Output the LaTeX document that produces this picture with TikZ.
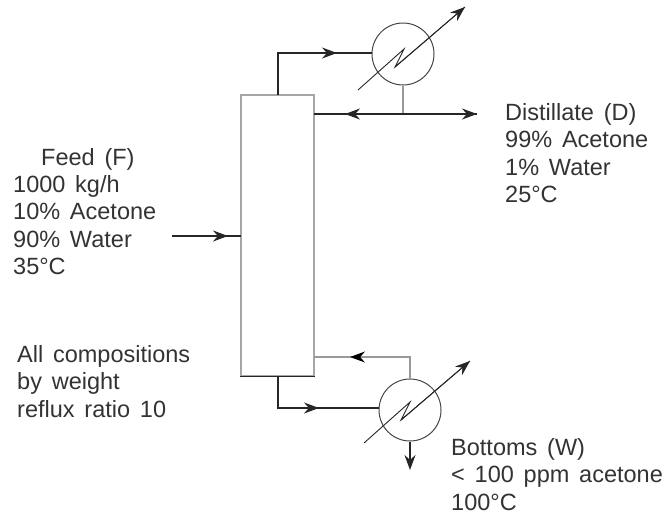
\documentclass[tikz,border=0pt]{standalone}
\usepackage{fontspec}
\setmainfont[WordSpace=1.5]{Liberation Sans}
\usetikzlibrary{arrows.meta,shapes,positioning,calc}
\definecolor{linegray}{RGB}{70,70,70}
\tikzset{
	column/.style={
		rectangle,
		draw=gray!70,
		line width=1.7pt,
		minimum width=73pt,
		minimum height=281pt,
		inner sep=0pt,
	},
	exchanger/.style={
		circle,
		draw=linegray,
		line width=1pt,
		minimum size=62pt,
		inner sep=0pt,
	},
	link/.style={
		line width=1.1pt,
		draw=black!85,
	},
	linkend/.style={
		link,
		-{Stealth[length=15pt,width=11pt]},
	},
	caption/.style={
		align=left,
		anchor=north west,
		inner sep=0pt,
		font=\fontsize{23.5}{27.4}\selectfont,
		text=black!80,
	},
}
\begin{document}
\begin{tikzpicture}[x=1pt,y=-1pt]
	\useasboundingbox (0,0) rectangle (666,515);
	\node [column] (col) at (277.5,235.5) {};
	\node [exchanger] (cond) at (403,54) {};
	\node [exchanger] (reb) at (410,410) {};

	\coordinate (coltop) at (278,95);
	\coordinate (topbend) at (278,53);
	\coordinate (topmid) at (337,53);
	\coordinate (condin) at (372,53);
	\coordinate (condA) at (358,90);
	\coordinate (condC) at (404,49);
	\coordinate (condD) at (395,67);
	\coordinate (condB) at (465,7);
	\coordinate (refl) at (314,114);
	\coordinate (reflmid) at (345,114);
	\coordinate (refltee) at (403,114);
	\coordinate (dist) at (477,114);
	\coordinate (feed) at (172,236);
	\coordinate (feedmid) at (228,236);
	\coordinate (colfeed) at (241,236);
	\coordinate (colbot) at (278,376);
	\coordinate (botbend) at (278,408);
	\coordinate (botmid) at (319,408);
	\coordinate (rebin) at (379,408);
	\coordinate (boil) at (314,357);
	\coordinate (boilmid) at (350,357);
	\coordinate (boilbend) at (410,357);
	\coordinate (rebA) at (364,443);
	\coordinate (rebC) at (410,402);
	\coordinate (rebD) at (401,420);
	\coordinate (rebB) at (470,361);
	\coordinate (botout) at (410,470);

	% overhead
	\draw[link] (coltop) -- (topbend) -- (condin);
	\draw[linkend] (topbend) -- (topmid);
	\draw[link,line width=0.9pt] (condA) -- (condC) -- (condD) -- (condB);
	\draw[linkend,line width=0.9pt] (condD) -- (condB);
	\draw[link,draw=gray!80] (cond.south) -- (refltee);
	\draw[link] (refl) -- (dist);
	\draw[linkend] (refltee) -- (reflmid);
	\draw[linkend] (refltee) -- (dist);

	% feed
	\draw[link] (feed) -- (colfeed);
	\draw[linkend] (feed) -- (feedmid);

	% bottoms
	\draw[link] (col.south west) -- (col.south east);
	\draw[link] (colbot) -- (botbend) -- (rebin);
	\draw[linkend] (botbend) -- (botmid);
	\draw[link,draw=gray!80] (reb.north) -- (boilbend) -- (boil);
	\draw[linkend,draw=gray!80,-{Stealth[length=15pt,width=11pt,color=black]}] (boilbend) -- (boilmid);
	\draw[link,line width=0.9pt] (rebA) -- (rebC) -- (rebD) -- (rebB);
	\draw[linkend,line width=0.9pt] (rebD) -- (rebB);
	\draw[linkend] (reb.south) -- (botout);

	\node [caption] (feedtxt) at (41,148) {Feed (F)};
	\node [caption] (feeddata) at (13,175) {1000 kg/h\\10\% Acetone\\90\% Water\\35°C};
	\node [caption] (disttxt) at (505,103) {Distillate (D)\\99\% Acetone\\1\% Water\\25°C};
	\node [caption] (notetxt) at (17,345) {All compositions\\by weight\\reflux ratio 10};
	\node [caption] (bottxt) at (451,438) {Bottoms (W)\\< 100 ppm acetone\\100°C};
\end{tikzpicture}
\end{document}
